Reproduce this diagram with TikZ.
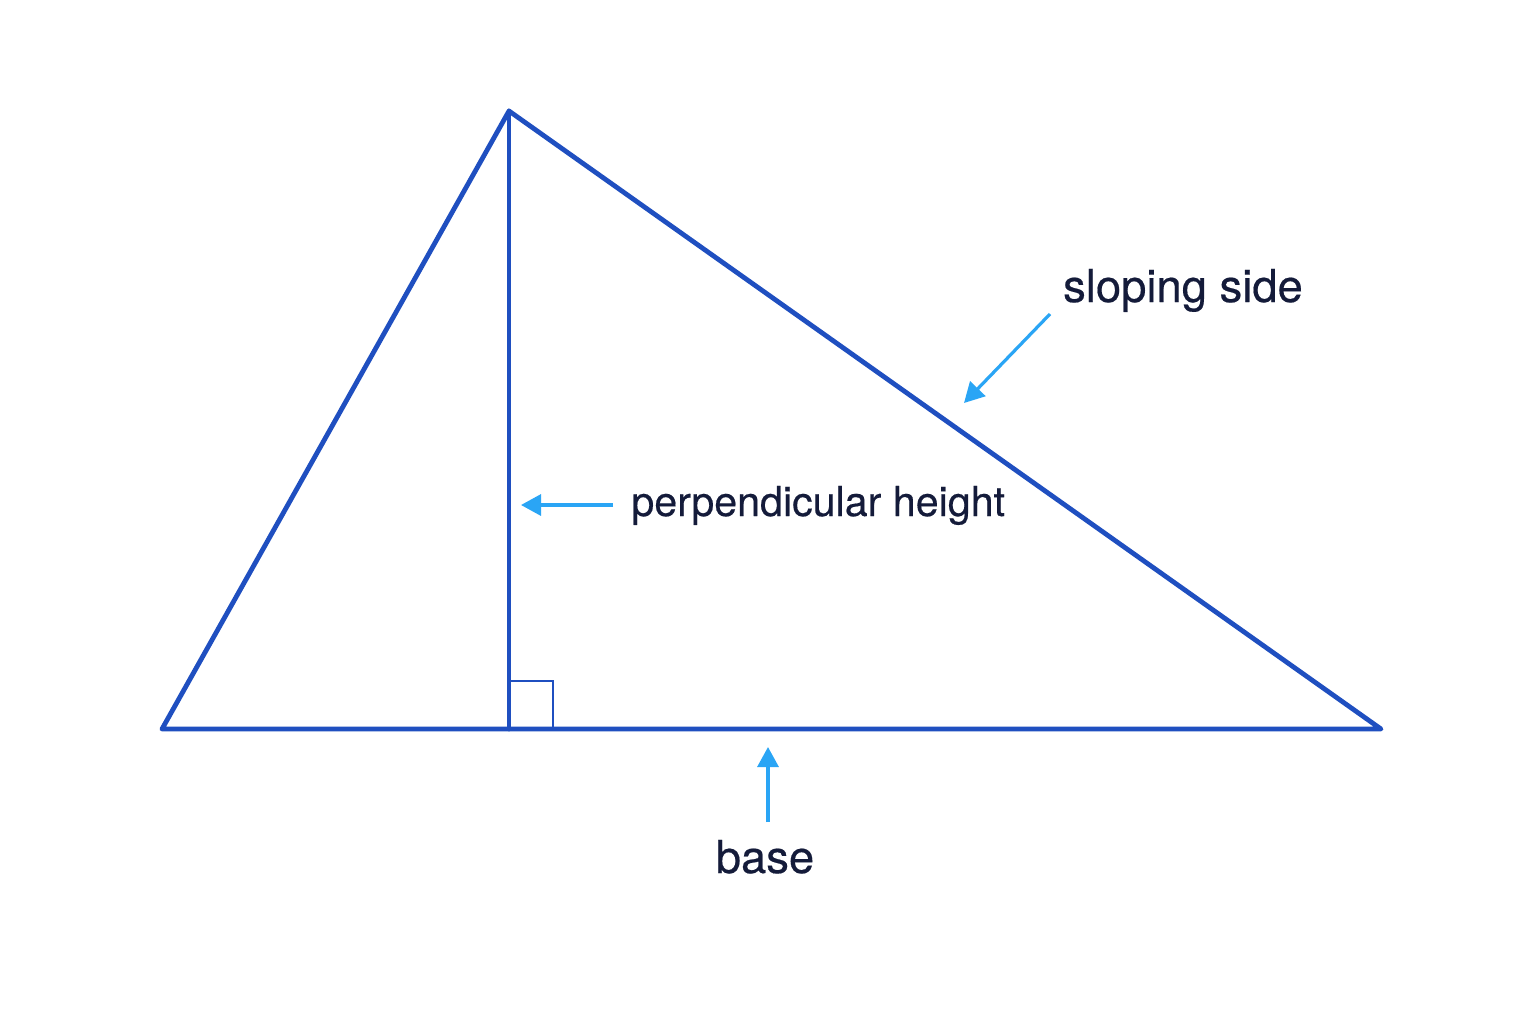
\documentclass[tikz,border=0pt]{standalone}
\usepackage{fontspec}
\setmainfont{TeX Gyre Heros}[FakeBold=0.4]
\usetikzlibrary{arrows.meta}
\definecolor{tri}{HTML}{1F4FC0}
\definecolor{arr}{HTML}{2AA5F5}
\definecolor{txt}{HTML}{141B3A}
\tikzset{
  side/.style={draw=tri, line width=2.4pt, line join=round, line cap=round},
  thin side/.style={draw=tri, line width=1.2pt},
  pointer/.style={draw=arr, line width=1.6pt, -{Triangle[length=10pt,width=10.5pt]}},
  lbl/.style={text=txt, inner sep=0pt}
}
\begin{document}
\begin{tikzpicture}[x=0.5pt,y=-0.5pt]
\useasboundingbox (0,0) rectangle (1536,1024);
\fill[white] (0,0) rectangle (1536,1024);
\coordinate (A) at (509,111);
\coordinate (B) at (162,729);
\coordinate (C) at (1381,729);
\coordinate (F) at (509,729);
\draw[thin side] (509,681) -- (553,681) -- (553,729);
\draw[side] (A) -- (B) -- (C) -- cycle;
\draw[side] (A) -- (F);
\node[lbl, anchor=base, font=\fontsize{22.7}{26}\selectfont] (ls) at (1183,302) {sloping side};
\node[lbl, anchor=base west, font=\fontsize{20.6}{24}\selectfont] (lp) at (631,516) {perpendicular height};
\node[lbl, anchor=base, font=\fontsize{22.7}{26}\selectfont] (lb) at (765,873) {base};
\coordinate (s1) at (1050,314);
\coordinate (s2) at (964,403);
\coordinate (p1) at (613,505);
\coordinate (p2) at (521,505);
\coordinate (b1) at (768,822);
\coordinate (b2) at (768,747);
\draw[pointer] (s1) -- (s2);
\draw[pointer] (p1) -- (p2);
\draw[pointer] (b1) -- (b2);
\end{tikzpicture}
\end{document}
